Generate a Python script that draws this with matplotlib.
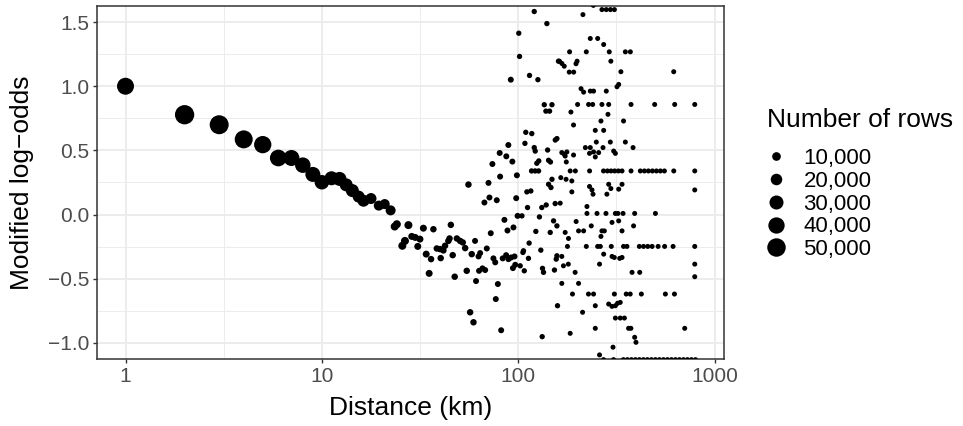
import numpy as np
import matplotlib
matplotlib.use("Agg")
import matplotlib.pyplot as plt
from matplotlib.lines import Line2D
from matplotlib.ticker import FixedLocator, NullFormatter

# ---------------- data ----------------
# smooth part of the curve, large bins
curve_km = [1, 2, 3, 4, 5, 6, 7, 8, 9, 10, 11.2, 12.3, 13.3, 14.3, 15.4,
            16.3, 17.8, 19.5, 20.9, 22.4]
curve_logodds = [1.000, 0.778, 0.700, 0.586, 0.545, 0.441, 0.441, 0.385,
                 0.313, 0.252, 0.283, 0.278, 0.232, 0.187, 0.140, 0.108,
                 0.125, 0.070, 0.082, 0.033]
curve_rows = [43000, 54000, 52500, 47800, 44500, 41700, 38600, 36400, 34200,
              32000, 29900, 29900, 25800, 25800, 21800, 21800, 18000, 14500,
              14500, 14500]

# 23 - 60 km
near_km = [23.5, 24.1, 25.7, 26.5, 27.6, 28.7, 29.9, 30.8, 31.6, 32.9, 34.0,
           35.2, 36.0, 37.0, 38.5, 40.0, 40.3, 41.6, 42.4, 44.1, 44.7, 45.4,
           46.4, 47.5, 48.7, 50.6, 52.2, 53.7, 54.7, 55.8, 56.9, 58.0, 59.2]
near_logodds = [-0.093, -0.075, -0.243, -0.205, -0.082, -0.170, -0.178,
                -0.248, -0.191, -0.106, -0.308, -0.458, -0.347, -0.114,
                -0.264, -0.269, -0.339, -0.279, -0.243, -0.205, -0.186,
                -0.080, -0.316, -0.484, -0.186, -0.205, -0.217, -0.261,
                -0.438, 0.234, -0.761, -0.308, -0.839]
near_rows = [7900, 7900, 7900, 7900, 7900, 5000, 5000, 5000, 5000, 5000,
             5000, 5000, 3700, 3700, 3700, 3700, 3700, 3700, 3700, 3700,
             3700, 3700, 3700, 3700, 3700, 3700, 3700, 3700, 3700, 3700,
             3700, 3700, 3700]

# 60 - 100 km (all about the same size)
mid_km = [60.3, 61.0, 62.8, 63.2, 64.0, 65.8, 67.3, 67.9, 69.2, 70.6, 71.4,
          72.5, 73.9, 74.8, 76.4, 76.9, 77.8, 78.8, 80.5, 80.9, 81.9, 83.4,
          85.1, 86.8, 87.0, 88.2, 89.1, 89.2, 91.7, 92.1, 93.4, 94.0, 94.6,
          95.8, 96.6, 97.7, 98.5, 99.3]
mid_logodds = [-0.205, -0.518, -0.326, -0.438, -0.300, -0.419, 0.094, -0.432,
               -0.264, 0.247, 0.133, -0.145, 0.394, -0.341, -0.372, -0.658,
               0.112, -0.541, 0.480, 0.296, -0.901, -0.341, -0.041, -0.316,
               0.454, -0.124, 0.542, -0.347, 1.051, -0.334, 0.413, -0.417,
               -0.100, -0.326, -0.391, 0.128, 0.306, -0.010]
mid_rows = 2500

# 100 - 160 km
far_km = [100.7, 101.6, 102.4, 104.5, 105.7, 106.4, 107.4, 108.2, 109.3,
          110.7, 111.6, 112.8, 113.7, 114.2, 116.0, 117.0, 117.3, 120.7,
          120.7, 122.0, 122.1, 123.0, 124.4, 126.0, 127.0, 127.3, 128.3,
          130.4, 131.9, 132.5, 133.0, 134.6, 135.8, 138.4, 138.9, 140.0,
          141.2, 142.8, 142.8, 144.5, 145.6, 146.0, 146.9, 148.6, 148.6,
          151.4, 153.0, 154.3, 154.5, 156.2, 157.5, 157.5, 157.5, 158.6,
          160.4]
far_logodds = [1.413, 1.232, -0.399, -0.010, -0.295, -0.282, -0.438, 0.555,
               0.641, 0.177, 0.055, -0.341, -0.222, 1.084, 0.184, 0.340,
               0.631, 1.582, 0.522, 0.340, 0.495, -0.131, 0.400, 1.051,
               0.340, 0.418, -0.018, -0.277, 0.055, -0.951, -0.419, -0.450,
               0.856, 0.806, 0.075, 1.488, 0.503, 0.236, 0.423, 0.806,
               -0.139, 0.410, 0.211, 0.275, 0.856, -0.049, -0.432, 0.086,
               0.581, -0.347, -0.088, -0.321, 0.592, -0.710, 1.195]
far_rows = 1200

# beyond 160 km
vfar_km = [162.3, 163.7, 164.8, 166.8, 166.8, 166.8, 167.0, 170.0, 171.6,
           171.6, 173.5, 173.5, 175.3, 175.8, 177.0, 178.2, 180.0, 180.4,
           182.0, 182.7, 184.0, 184.0, 185.6, 187.6, 187.6, 189.0, 191.4,
           191.4, 191.7, 195.0, 195.5, 197.0, 197.3, 199.5, 200.7, 203.0,
           203.0, 209.0, 212.8, 213.7, 215.4, 215.4, 219.8, 222.3, 222.3,
           224.0, 224.0, 228.0, 228.3, 230.8, 230.8, 231.0, 232.9, 232.9,
           233.0, 235.6, 237.6, 239.5, 240.5, 241.5, 242.0, 242.0, 242.0,
           247.0, 247.0, 247.0, 247.0, 250.0, 252.0, 254.0, 254.0, 257.0,
           259.6, 259.6, 262.0, 264.0, 264.0, 267.0, 267.0, 267.0, 270.4,
           272.0, 272.0, 272.5, 272.5, 272.5, 274.7, 280.0, 281.0, 281.0,
           283.0, 284.6, 286.6, 289.0, 289.0, 289.0, 291.0, 294.6, 295.0,
           296.5, 296.5, 297.0, 298.0, 300.6, 300.6, 300.6, 304.0, 306.0,
           306.4, 308.6, 309.0, 309.0, 310.0, 312.6, 312.6, 312.6, 312.6,
           318.6, 320.7, 322.0, 323.7, 325.0, 325.0, 325.0, 328.8, 331.0,
           331.0, 333.5, 338.0, 338.0, 338.0, 338.0, 342.0, 343.4, 344.0,
           344.0, 347.5, 351.4, 351.4, 355.0, 358.0, 359.8, 365.0, 372.0,
           372.6, 375.0, 375.6, 375.6, 377.4, 380.0, 384.6, 387.0, 392.0,
           392.0, 395.6, 398.0, 414.0, 414.4, 416.0, 419.0, 424.0, 434.4,
           435.0, 439.5, 455.0, 457.0, 460.5, 477.0, 481.0, 482.6, 495.6,
           500.0, 500.0, 506.0, 516.0, 524.0, 530.0, 549.6, 555.5, 557.0,
           562.0, 576.0, 603.6, 615.0, 619.6, 620.0, 625.0, 626.8, 632.7,
           663.0, 695.0, 705.0, 728.0, 763.0, 793.0, 793.0, 793.0, 793.0,
           793.0, 793.0, 800.0]
vfar_logodds = [1.195, 0.089, 0.288, 0.483, -0.326, -0.536, 1.177, -0.399,
                1.156, 0.470, 0.456, -0.139, 0.275, 0.410, 0.488, -0.248,
                -0.386, -0.186, 1.110, 1.268, 0.340, -0.925, 0.799, 0.262,
                0.177, -0.619, 0.698, 0.464, 1.110, -0.450, 0.340, 1.175,
                -0.054, 1.195, 0.858, -0.127, -0.536, 0.981, -0.761, 1.558,
                0.954, -0.127, 0.522, 1.268, -0.248, 0.063, 0.009, -0.619,
                0.858, 0.477, 0.219, 0.340, 1.372, 0.522, 0.962, -0.088,
                0.192, 0.858, 0.159, 1.630, 0.962, 0.488, -0.619, 0.656,
                0.449, -0.710, -0.886, 0.565, 0.009, 1.372, -0.248, 0.483,
                -0.386, -1.093, -0.248, 0.729, -0.170, 1.597, 0.858, -0.127,
                0.522, 0.340, -1.130, 1.325, 0.656, -0.308, -0.127, 0.009,
                1.597, 0.962, 0.159, 0.340, 0.781, 0.858, 0.236, -0.697,
                1.268, 0.565, 1.597, 1.195, 0.203, 0.340, -0.248, -0.061,
                -0.326, -0.715, -1.033, -1.130, 0.495, -0.334, 1.597, -0.619,
                0.340, 0.477, 0.009, -0.710, -0.806, 0.996, -0.691, 0.009,
                0.340, 1.014, 0.198, -0.049, -0.341, -0.684, -0.806, 1.113,
                0.340, 0.236, -0.127, -0.334, 0.009, -1.130, 0.729, -0.248,
                -0.806, 1.268, 0.565, -0.619, -0.248, -1.130, -0.886, -0.619,
                1.268, -0.886, 0.858, 0.340, -1.130, -0.450, 0.522, -0.088,
                0.009, -0.956, -1.130, -0.995, -0.248, -1.130, -0.450, 0.340,
                -0.619, -1.130, -0.248, 0.340, -1.130, -0.248, 0.340, -1.130,
                -0.248, 0.340, 0.858, 0.009, -1.130, 0.340, -0.248, -1.130,
                0.340, -1.130, 0.340, -0.248, -0.619, -1.130, -1.130, -0.248,
                1.113, 0.340, -0.619, 0.858, -1.130, -1.130, -1.130, -0.886,
                -1.130, -1.130, 0.858, 0.340, 0.192, -0.248, -0.386, -0.484,
                -1.130]
vfar_rows = 600

legend_values = [10000, 20000, 30000, 40000, 50000]
legend_labels = ["10,000", "20,000", "30,000", "40,000", "50,000"]

x_ticks = [1, 10, 100, 1000]
x_ticklabels = ["1", "10", "100", "1000"]
y_ticks = [-1.0, -0.5, 0.0, 0.5, 1.0, 1.5]
y_ticklabels = ["\u22121.0", "\u22120.5", "0.0", "0.5", "1.0", "1.5"]

# ---------------- styling ----------------
DPI = 100
W, H = 963, 426
FONT = ["Liberation Sans", "DejaVu Sans"]
plt.rcParams["font.family"] = FONT


def diam_px(n):
    return 4.5 + 15.0 * (np.asarray(n, dtype=float) / 55000.0) ** 0.75


def marker_area(n):
    return (diam_px(n) * 72.0 / DPI) ** 2


km = np.concatenate([curve_km, near_km, mid_km, far_km, vfar_km])
lo = np.concatenate([curve_logodds, near_logodds, mid_logodds, far_logodds,
                     vfar_logodds])
rows = np.concatenate([curve_rows, near_rows,
                       np.full(len(mid_km), mid_rows),
                       np.full(len(far_km), far_rows),
                       np.full(len(vfar_km), vfar_rows)])

fig = plt.figure(figsize=(W / DPI, H / DPI), dpi=DPI)
fig.patch.set_facecolor("white")
ax = fig.add_axes([97 / W, 1 - 359 / H, (724 - 97) / W, (359 - 6) / H])

ax.scatter(km, lo, s=marker_area(rows), c="black", linewidths=0, zorder=3)

ax.set_xscale("log")
L = np.log10(km.max())
ax.set_xlim(10 ** (-0.05 * L), 10 ** (1.05 * L))
ax.set_ylim(-1.125, 1.625)

ax.xaxis.set_major_locator(FixedLocator(x_ticks))
ax.set_xticklabels(x_ticklabels)
ax.xaxis.set_minor_locator(FixedLocator(10 ** np.array([0.5, 1.5, 2.5])))
ax.xaxis.set_minor_formatter(NullFormatter())
ax.set_yticks(y_ticks)
ax.set_yticklabels(y_ticklabels)
ax.set_yticks([-0.75, -0.25, 0.25, 0.75, 1.25], minor=True)

ax.grid(which="major", color="#EBEBEB", lw=1.3)
ax.grid(which="minor", color="#EBEBEB", lw=0.65)
ax.set_axisbelow(True)
ax.tick_params(which="minor", length=0)
ax.tick_params(which="major", length=3, width=1.0, color="#333333",
               labelcolor="#4D4D4D", labelsize=15, pad=2.5)
for sp in ax.spines.values():
    sp.set_color("#333333")
    sp.set_linewidth(1.1)

ax.set_xlabel("Distance (km)", fontsize=19, color="black")
ax.set_ylabel("Modified log\u2212odds", fontsize=19, color="black")
ax.xaxis.label.set_va("center")
ax.yaxis.label.set_va("center")
ax.xaxis.set_label_coords(0.5, -(408 - 359) / 353)
ax.yaxis.set_label_coords((22 - 97) / 627, 0.5)

handles = [Line2D([], [], ls="", marker="o", color="black", markeredgewidth=0,
                  markersize=diam_px(v) * 72.0 / DPI) for v in legend_values]
leg = fig.legend(handles, legend_labels, title="Number of rows",
                 loc="upper left", bbox_to_anchor=(767 / W, 1 - 108 / H),
                 frameon=False, fontsize=16, title_fontsize=19,
                 borderpad=0, borderaxespad=0, handlelength=0.82,
                 handletextpad=0.82, labelspacing=0.08, alignment="left")
leg._legend_box.sep = 11.5

fig.savefig("out.png", dpi=DPI, facecolor="white")
